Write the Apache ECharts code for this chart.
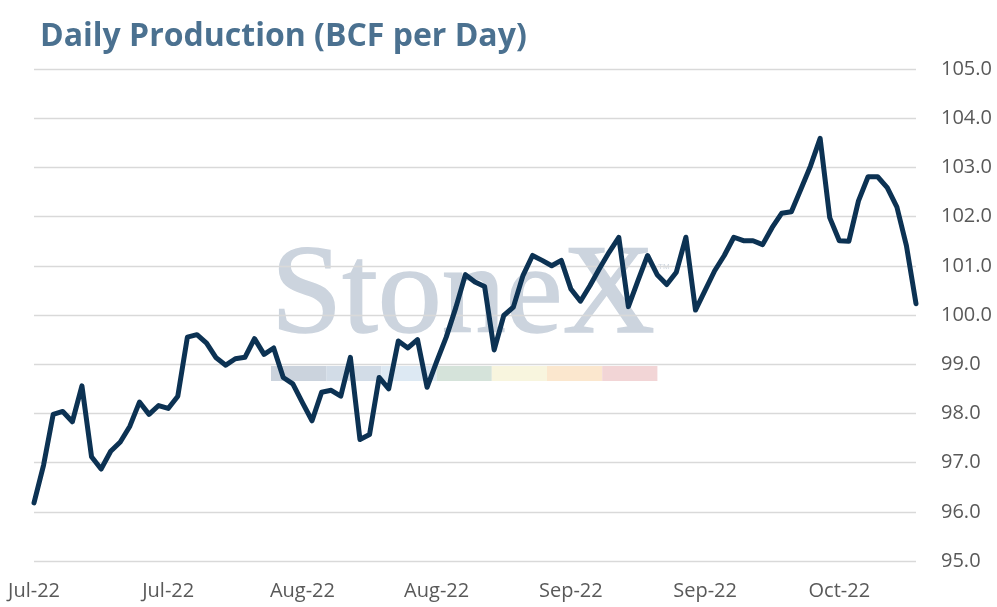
<!DOCTYPE html>
<html>
<head>
<meta charset="utf-8">
<script src="https://cdn.jsdelivr.net/npm/echarts@6/dist/echarts.min.js"></script>
<style>
  html, body { margin: 0; padding: 0; background: #ffffff; }
  #chart { width: 997px; height: 607px; }
</style>
</head>
<body>
<div id="chart"></div>
<script>
// ---- Data ----
const titleText = 'Daily Production (BCF per Day)';
const tickLabels = ['Jul-22', 'Jul-22', 'Aug-22', 'Aug-22', 'Sep-22', 'Sep-22', 'Oct-22'];
const tickEvery = 14;
const production = [
  96.18, 96.95, 97.98, 98.04, 97.83, 98.56, 97.12, 96.87, 97.23, 97.42,
  97.74, 98.23, 97.98, 98.16, 98.10, 98.35, 99.55, 99.60, 99.43, 99.13,
  98.98, 99.11, 99.14, 99.52, 99.20, 99.33, 98.73, 98.60, 98.22, 97.85,
  98.43, 98.47, 98.35, 99.14, 97.47, 97.57, 98.73, 98.50, 99.47, 99.33,
  99.50, 98.53, 99.05, 99.55, 100.15, 100.82, 100.67, 100.58, 99.29, 99.99,
  100.16, 100.80, 101.21, 101.11, 101.00, 101.11, 100.53, 100.28, 100.60, 100.95,
  101.28, 101.58, 100.17, 100.70, 101.21, 100.82, 100.62, 100.87, 101.58, 100.10,
  100.50, 100.90, 101.21, 101.58, 101.51, 101.51, 101.43, 101.78, 102.07, 102.10,
  102.56, 103.03, 103.59, 101.98, 101.51, 101.50, 102.32, 102.81, 102.81, 102.59,
  102.20, 101.41, 100.23
];
const categories = production.map((_, i) => i);
const yMin = 95, yMax = 105, yStep = 1;

// watermark stripe colours
const stripeColors = ['#cbd3dd', '#d2dce7', '#dde9f3', '#d5e3da', '#f8f5de', '#fbe7ce', '#f2d5d6'];

const stripe = stripeColors.map((c, i) => ({
  type: 'rect',
  shape: { x: 271 + i * 55.2, y: 366, width: 55.2, height: 15 },
  style: { fill: c },
  z: -1,
  silent: true
}));

const chart = echarts.init(document.getElementById('chart'), null, { renderer: 'canvas' });
chart.setOption({
  backgroundColor: '#ffffff',
  animation: false,
  title: {
    text: titleText,
    left: 35,
    top: 16,
    textStyle: {
      fontFamily: 'Open Sans',
      fontWeight: 'bold',
      fontSize: 32,
      color: '#4b7190'
    }
  },
  graphic: [
    {
      type: 'text',
      x: 271,
      y: 298,
      z: -1,
      silent: true,
      style: {
        text: 'StoneX',
        font: '128px "Liberation Serif"',
        fill: '#ccd4de',
        stroke: '#ccd4de',
        lineWidth: 1.5,
        verticalAlign: 'middle',
        align: 'left'
      }
    },
    {
      type: 'text',
      x: 658,
      y: 263,
      z: -1,
      silent: true,
      style: {
        text: 'TM',
        font: '8px "Liberation Sans"',
        fill: '#cfd6df'
      }
    }
  ].concat(stripe),
  grid: { left: 34, right: 81, top: 69, bottom: 46, containLabel: false },
  xAxis: {
    type: 'category',
    data: categories,
    boundaryGap: false,
    axisLine: { show: false },
    axisTick: { show: false },
    splitLine: { show: false },
    axisLabel: {
      interval: 0,
      margin: 20,
      fontFamily: 'Open Sans',
      fontSize: 20,
      color: '#595959',
      formatter: function (v, i) {
        return (i % tickEvery === 0 && tickLabels[i / tickEvery]) ? tickLabels[i / tickEvery] : '';
      }
    }
  },
  yAxis: {
    type: 'value',
    position: 'right',
    min: yMin,
    max: yMax,
    interval: yStep,
    axisLine: { show: false },
    axisTick: { show: false },
    axisLabel: {
      margin: 25,
      fontFamily: 'Open Sans',
      fontSize: 20,
      color: '#595959',
      formatter: v => v.toFixed(1)
    },
    splitLine: { lineStyle: { color: '#d9d9d9', width: 1.3 } }
  },
  series: [{
    type: 'line',
    data: production,
    symbol: 'none',
    z: 5,
    lineStyle: { color: '#0c3253', width: 5, join: 'round', cap: 'round' }
  }]
});
</script>
</body>
</html>
